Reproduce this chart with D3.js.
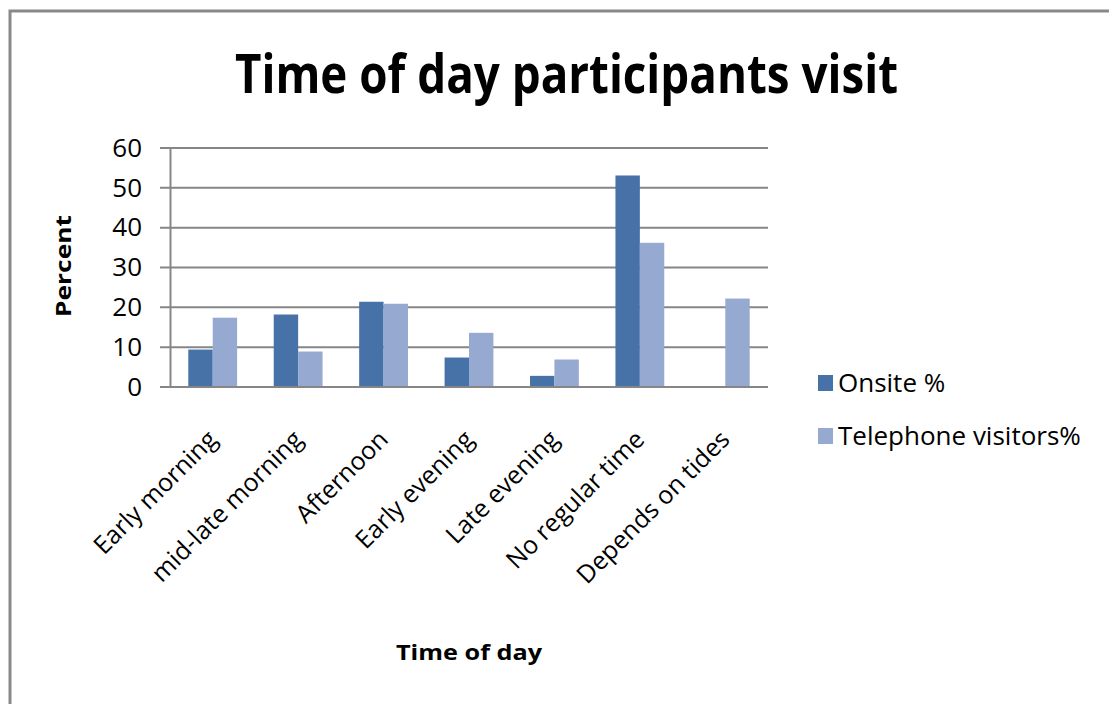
<!DOCTYPE html>
<html>
<head>
<meta charset="utf-8">
<script src="https://cdn.jsdelivr.net/npm/d3@7"></script>
<style>
  body { margin: 0; background: #fff; }
  text { font-family: "Open Sans", sans-serif; fill: #000; }
</style>
</head>
<body>
<div class="chart"></div>
<script>
const width = 1109;
const height = 704;

const categories = ["Early morning", "mid-late morning", "Afternoon", "Early evening",
  "Late evening", "No regular time", "Depends on tides"];
const seriesNames = ["Onsite %", "Telephone visitors%"];
const onsite = [9.4, 18.2, 21.4, 7.4, 2.8, 53.1, 0];
const telephone = [17.4, 8.9, 20.9, 13.6, 6.9, 36.2, 22.2];
const yTicks = [0, 10, 20, 30, 40, 50, 60];
const colors = ["#4672a8", "#95a9d1"];

const svg = d3
  .select(".chart")
  .append("svg")
  .attr("width", width)
  .attr("height", height);

// chart area frame (runs off right and bottom)
svg
  .append("path")
  .attr("d", `M10,${height + 10} L10,11 L${width + 10},11`)
  .attr("fill", "none")
  .attr("stroke", "#898989")
  .attr("stroke-width", 3);

const x0 = d3.scaleBand().domain(categories).range([170, 768]);
const x1 = d3
  .scaleBand()
  .domain(seriesNames)
  .range([0, x0.bandwidth()])
  .paddingOuter(0.75);
const y = d3.scaleLinear().domain([0, 60]).range([387, 148]);

// gridlines
svg
  .append("g")
  .selectAll("line")
  .data(yTicks)
  .enter()
  .append("line")
  .attr("x1", 160)
  .attr("x2", 768)
  .attr("y1", (d) => y(d))
  .attr("y2", (d) => y(d))
  .attr("stroke", "#868686")
  .attr("stroke-width", 2);

// y axis
const yAxis = svg
  .append("g")
  .attr("transform", "translate(170,0)")
  .call(d3.axisLeft(y).tickValues(yTicks).tickSize(0).tickPadding(28));
yAxis.select(".domain").attr("stroke", "#868686").attr("stroke-width", 2);
yAxis
  .selectAll("text")
  .style("font-size", "26px")
  .attr("fill", "#000");

// bars
const rows = categories.map((c, i) => ({ cat: c, vals: [onsite[i], telephone[i]] }));
const groups = svg
  .append("g")
  .selectAll("g")
  .data(rows)
  .enter()
  .append("g")
  .attr("transform", (d) => `translate(${x0(d.cat)},0)`);

groups
  .selectAll("rect")
  .data((d) => d.vals.map((v, j) => ({ name: seriesNames[j], v: v, j: j })))
  .enter()
  .append("rect")
  .attr("x", (d) => x1(d.name))
  .attr("width", x1.bandwidth())
  .attr("y", (d) => y(d.v))
  .attr("height", (d) => y(0) - y(d.v))
  .attr("fill", (d) => colors[d.j]);

// x axis line drawn over bars
svg
  .append("line")
  .attr("x1", 160)
  .attr("x2", 768)
  .attr("y1", y(0))
  .attr("y2", y(0))
  .attr("stroke", "#868686")
  .attr("stroke-width", 2);

// category labels
svg
  .append("g")
  .selectAll("text")
  .data(categories)
  .enter()
  .append("text")
  .attr("transform", (d) => `translate(${x0(d) + x0.bandwidth() / 2 + 6},441) rotate(-45)`)
  .attr("text-anchor", "end")
  .style("font-size", "25px")
  .text((d) => d);

// title
svg
  .append("text")
  .attr("x", 235)
  .attr("y", 93)
  .attr("textLength", 663)
  .attr("lengthAdjust", "spacingAndGlyphs")
  .style("font-size", "54px")
  .style("font-weight", "bold")
  .text("Time of day participants visit");

// axis titles
svg
  .append("text")
  .attr("transform", "translate(71,266) rotate(-90)")
  .attr("text-anchor", "middle")
  .attr("textLength", 102)
  .attr("lengthAdjust", "spacingAndGlyphs")
  .style("font-size", "21px")
  .style("font-weight", "bold")
  .text("Percent");

svg
  .append("text")
  .attr("x", 396)
  .attr("y", 660)
  .attr("textLength", 146)
  .attr("lengthAdjust", "spacingAndGlyphs")
  .style("font-size", "22px")
  .style("font-weight", "bold")
  .text("Time of day");

// legend
const legend = svg
  .append("g")
  .selectAll("g")
  .data(seriesNames)
  .enter()
  .append("g")
  .attr("transform", (d, i) => `translate(818,${375 + i * 53})`);

legend
  .append("rect")
  .attr("width", 15)
  .attr("height", 16)
  .attr("fill", (d, i) => colors[i]);

legend
  .append("text")
  .attr("x", 20)
  .attr("y", 17)
  .style("font-size", "26px")
  .text((d) => d);
</script>
</body>
</html>
